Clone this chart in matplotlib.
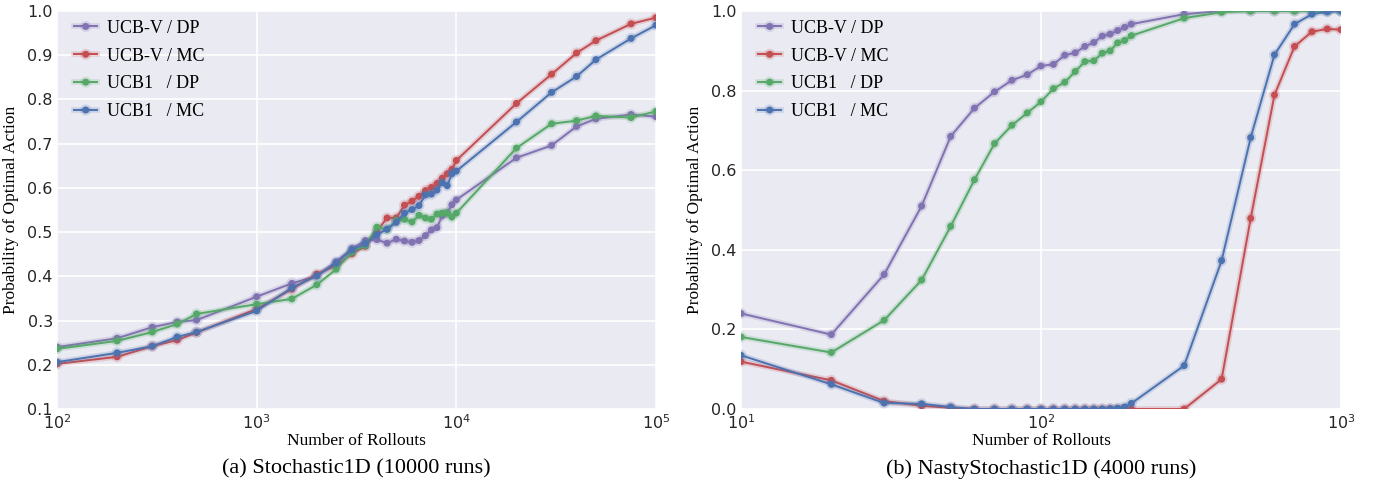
import matplotlib
matplotlib.use("Agg")
import matplotlib.pyplot as plt
import matplotlib.patheffects as pe

# Stochastic1D (10000 runs)
rollouts_a = [100, 200, 300, 400, 500, 1000, 1500, 2000, 2500, 3000, 3500, 4000, 4500,
              5000, 5500, 6000, 6500, 7000, 7500, 8000, 8500, 9000, 9500, 10000,
              20000, 30000, 40000, 50000, 75000, 100000]
ucbv_dp_a = [0.240, 0.260, 0.285, 0.297, 0.301, 0.354, 0.384, 0.401, 0.433, 0.463, 0.481, 0.483,
             0.475, 0.484, 0.480, 0.477, 0.481, 0.492, 0.505, 0.510, 0.537, 0.544, 0.562, 0.573,
             0.668, 0.696, 0.739, 0.756, 0.766, 0.761]
ucbv_mc_a = [0.202, 0.218, 0.242, 0.256, 0.273, 0.326, 0.371, 0.405, 0.424, 0.451, 0.468, 0.502,
             0.532, 0.532, 0.561, 0.570, 0.581, 0.594, 0.601, 0.610, 0.622, 0.632, 0.642, 0.662,
             0.791, 0.857, 0.905, 0.933, 0.971, 0.985]
ucb1_dp_a = [0.236, 0.254, 0.274, 0.292, 0.315, 0.337, 0.349, 0.381, 0.416, 0.455, 0.470, 0.511,
             0.506, 0.526, 0.529, 0.523, 0.538, 0.532, 0.529, 0.541, 0.543, 0.543, 0.534, 0.543,
             0.690, 0.745, 0.752, 0.763, 0.759, 0.773]
ucb1_mc_a = [0.206, 0.227, 0.242, 0.263, 0.274, 0.322, 0.374, 0.401, 0.430, 0.460, 0.474, 0.494,
             0.507, 0.522, 0.543, 0.551, 0.560, 0.584, 0.586, 0.595, 0.612, 0.605, 0.632, 0.638,
             0.749, 0.816, 0.852, 0.890, 0.938, 0.968]

# NastyStochastic1D (4000 runs)
rollouts_b = [10, 20, 30, 40, 50, 60, 70, 80, 90, 100, 110, 120, 130, 140, 150, 160, 170,
              180, 190, 200, 300, 400, 500, 600, 700, 800, 900, 1000]
ucbv_dp_b = [0.240, 0.187, 0.338, 0.510, 0.685, 0.756, 0.797, 0.826, 0.840, 0.862, 0.866, 0.889,
             0.895, 0.911, 0.921, 0.937, 0.942, 0.951, 0.959, 0.967, 0.992, 1.0, 1.0, 1.0,
             1.0, 1.0, 1.0, 1.0]
ucbv_mc_b = [0.119, 0.072, 0.020, 0.008, 0.003, 0.0, 0.0, 0.0, 0.0, 0.0, 0.0, 0.0, 0.0, 0.0,
             0.0, 0.0, 0.0, 0.0, 0.0, 0.0, 0.0, 0.075, 0.479, 0.789, 0.911, 0.948, 0.955, 0.953]
ucb1_dp_b = [0.181, 0.142, 0.223, 0.324, 0.459, 0.576, 0.667, 0.713, 0.744, 0.772, 0.805, 0.821,
             0.848, 0.873, 0.875, 0.894, 0.900, 0.920, 0.926, 0.938, 0.982, 0.997, 1.0, 1.0,
             1.0, 1.0, 1.0, 1.0]
ucb1_mc_b = [0.135, 0.062, 0.015, 0.013, 0.005, 0.0, 0.0, 0.0, 0.0, 0.0, 0.0, 0.0, 0.0, 0.0,
             0.0, 0.0, 0.001, 0.002, 0.005, 0.014, 0.109, 0.373, 0.682, 0.890, 0.967, 0.992,
             0.998, 1.0]

labels = ["UCB-V / DP", "UCB-V / MC", "UCB1   / DP", "UCB1   / MC"]
colors = ["#8172B2", "#C44E52", "#55A868", "#4C72B0"]

serif = "Liberation Serif"

fig = plt.figure(figsize=(13.8, 4.87), dpi=100)
ax1 = fig.add_axes([57 / 1380, 78 / 487, 599 / 1380, 398 / 487])
ax2 = fig.add_axes([741 / 1380, 78 / 487, 600 / 1380, 398 / 487])


def draw(ax, x, series, ylim, yticks, caption):
    ax.set_facecolor("#EAEAF2")
    for s in ax.spines.values():
        s.set_visible(False)
    for ys, lab, c in zip(series, labels, colors):
        ax.plot(x, ys, color=c, lw=1.4, marker="o", ms=4, label=lab,
                path_effects=[pe.Stroke(linewidth=4, foreground=c, alpha=0.2), pe.Normal()])
    ax.set_xscale("log")
    ax.set_xlim(x[0], x[-1])
    ax.set_ylim(*ylim)
    ax.set_yticks(yticks)
    ax.minorticks_off()
    ax.grid(True, color="white", lw=1.2)
    ax.set_axisbelow(True)
    ax.tick_params(length=0, labelsize=11.5, pad=3, labelcolor="#262626")
    ax.set_xlabel("Number of Rollouts", family=serif, fontsize=12.5, labelpad=1)
    ax.set_ylabel("Probability of Optimal Action", family=serif, fontsize=12.5, labelpad=6)
    ax.legend(loc="upper left", bbox_to_anchor=(0.017, 0.996), frameon=False,
              prop={"family": serif, "size": 13}, handlelength=1.25, handletextpad=0.55,
              labelspacing=0.6, borderaxespad=0, borderpad=0.4)
    ax.text(0.5, -0.151, caption, transform=ax.transAxes, ha="center", va="center",
            family=serif, fontsize=16)


draw(ax1, rollouts_a, [ucbv_dp_a, ucbv_mc_a, ucb1_dp_a, ucb1_mc_a], (0.1, 1.0),
     [0.1, 0.2, 0.3, 0.4, 0.5, 0.6, 0.7, 0.8, 0.9, 1.0], "(a) Stochastic1D (10000 runs)")
draw(ax2, rollouts_b, [ucbv_dp_b, ucbv_mc_b, ucb1_dp_b, ucb1_mc_b], (0.0, 1.0),
     [0.0, 0.2, 0.4, 0.6, 0.8, 1.0], "(b) NastyStochastic1D (4000 runs)")

fig.savefig("out.png", dpi=100, facecolor="white")
